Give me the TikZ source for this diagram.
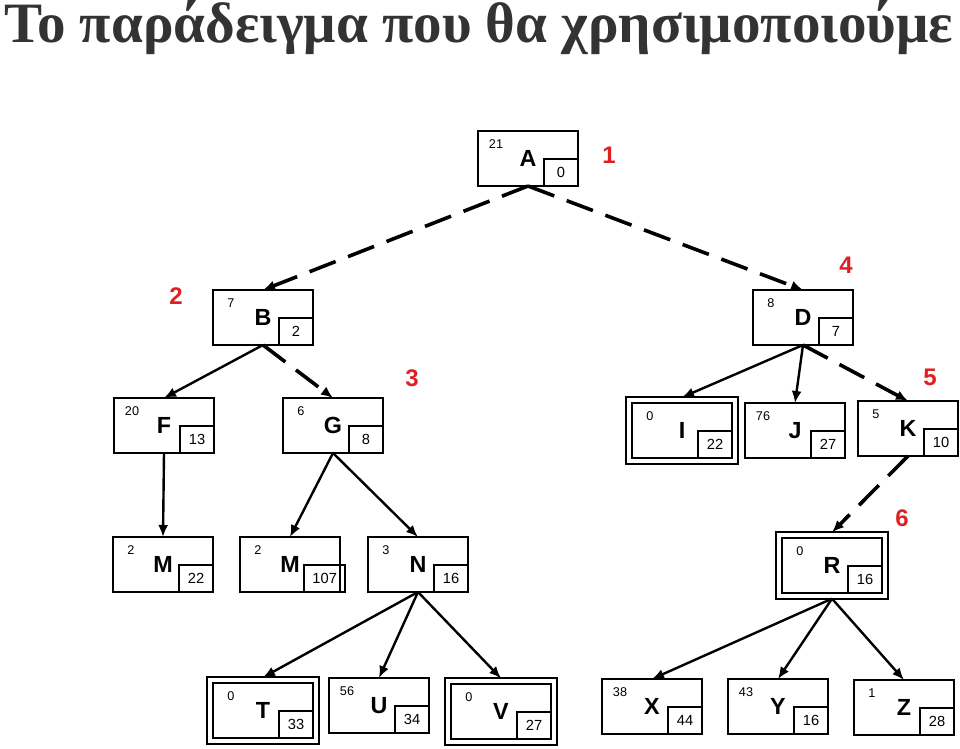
\documentclass[tikz,border=0pt]{standalone}
\usepackage{fontspec}
\setmainfont{Liberation Serif}
\newfontfamily\boxfont{Liberation Sans}
\usetikzlibrary{arrows.meta, positioning, fit}
\definecolor{titlegray}{HTML}{333333}
\definecolor{stepred}{HTML}{E02020}

\begin{document}
\begin{tikzpicture}[
	x=0.75pt, y=-0.75pt,
	card/.style={draw, line width=1.5pt, outer sep=0pt, inner sep=0pt, minimum width=75pt, minimum height=41.25pt, font=\boxfont\bfseries\fontsize{17.5}{18}\selectfont},
	cost/.style={draw, line width=1.1pt, outer sep=0pt, inner sep=0pt, minimum height=20.25pt, font=\boxfont\fontsize{11}{12}\selectfont},
	rank/.style={inner sep=0pt, font=\boxfont\fontsize{9.5}{10}\selectfont},
	frame/.style={draw, line width=1.5pt, outer sep=0pt, inner sep=4.25pt},
	order/.style={inner sep=0pt, text=stepred, font=\boxfont\bfseries\fontsize{18}{20}\selectfont},
	link/.style={-{Latex[length=9pt,width=7.5pt]}, line width=1.8pt},
	search/.style={link, line width=2.7pt, dash pattern=on 21pt off 10pt}
	]
	\useasboundingbox (0,0) rectangle (960,749);
	\node[anchor=base west, inner sep=0pt, text=titlegray, font=\bfseries\fontsize{42.8}{46}\selectfont] (title) at (4,43) {Το παράδειγμα που θα χρησιμοποιούμε};

	% the tree nodes: name/x/y/rank/letter/cost/cost width
	\foreach \nm/\px/\py/\tl/\lt/\cs/\cw in {
		A/528/158.5/21/A/0/34, B/263/317.5/7/B/2/34, D/803/317.5/8/D/7/34,
		F/164/425.5/20/F/13/34, G/333/425.5/6/G/8/34, I/682/430.5/0/I/22/34,
		J/795/430.5/76/J/27/34, K/908/428.5/5/K/10/34,
		M1/163/564.5/2/M/22/34, M2/290/564.5/2/M/107/41, N/418/564.5/3/N/16/34,
		R/832/565.5/0/R/16/34,
		T/263/710.5/0/T/33/34, U/379/705.5/56/U/34/34, V/501/711.5/0/V/27/34,
		X/652/706.5/38/X/44/34, Y/778/706.5/43/Y/16/34, Z/904/707.5/1/Z/28/34}
	{
		\node[card] (\nm) at (\px,\py) {\lt};
		\node[cost, minimum width={\cw*0.75pt}, anchor=south east] (\nm-c) at ([xshift={(\cw-34)*0.56pt}]\nm.south east) {\cs};
		\node[rank] (\nm-r) at ([shift={(-32,-14)}]\nm.center) {\tl};
	}

	% goal nodes get a second border
	\foreach \nm in {I, R, T, V}
		\node[frame, fit=(\nm)] (\nm-f) {};

	% search order
	\node[order] (s1) at (609,155) {1};
	\node[order] (s2) at (176,296) {2};
	\node[order] (s3) at (412,378) {3};
	\node[order] (s4) at (846,265) {4};
	\node[order] (s5) at (930,377) {5};
	\node[order] (s6) at (902,518) {6};

	\draw[search] (A.south) -- (B.north);
	\draw[search] (A.south) -- (D.north);
	\draw[link] (B.south) -- (F.north);
	\draw[search] (B.south) -- (G.north);
	\draw[link] (D.south) -- (I-f.north);
	\draw[link] (D.south) -- (J.north);
	\draw[search] (D.south) -- (K.north);
	\draw[link] (F.south) -- (M1.north);
	\draw[link] (G.south) -- (M2.north);
	\draw[link] (G.south) -- (N.north);
	\draw[search] (K.south) -- (R-f.north);
	\draw[link] (N.south) -- (T-f.north);
	\draw[link] (N.south) -- (U.north);
	\draw[link] (N.south) -- (V-f.north);
	\draw[link] (R-f.south) -- (X.north);
	\draw[link] (R-f.south) -- (Y.north);
	\draw[link] (R-f.south) -- (Z.north);
\end{tikzpicture}
\end{document}
